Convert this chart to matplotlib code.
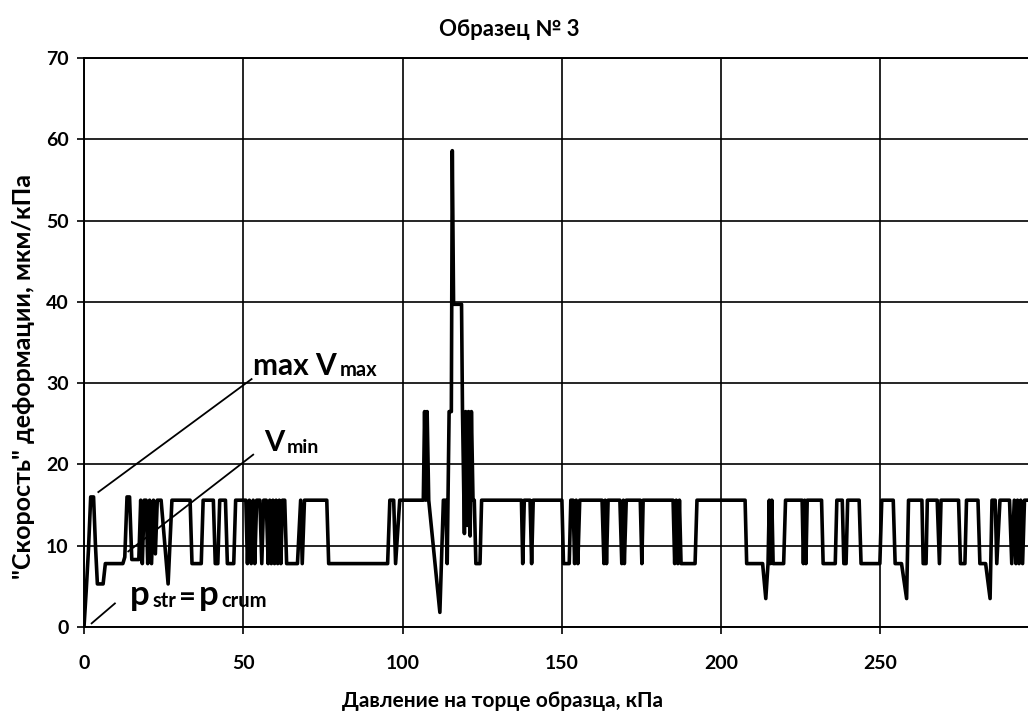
import matplotlib
matplotlib.use("Agg")
import matplotlib.pyplot as plt

plt.rcParams['font.family'] = ['Lato', 'Open Sans', 'DejaVu Sans']
plt.rcParams['font.weight'] = 'bold'

# pressure on sample end, kPa / strain "rate", um/kPa
pressure = [
    0.0, 0.7, 1.4, 2.1, 3.0, 3.6, 4.2, 6.0, 6.7, 12.2, 12.8, 13.5, 14.3, 15.0,
    17.2, 17.8, 18.3, 18.9, 19.5, 20.0, 20.6, 21.2, 21.8, 22.4, 23.0, 24.2,
    26.4, 27.6, 33.3, 33.9, 36.8, 37.4, 40.6, 41.2, 42.0, 42.6, 44.4, 45.0,
    47.0, 47.6, 50.8, 51.3, 51.9, 52.5, 53.1, 53.6, 54.2, 55.2, 55.8, 56.4,
    57.2, 57.8, 58.3, 58.8, 59.3, 59.8, 60.3, 60.8, 61.3, 61.8, 62.3, 63.0,
    63.6, 67.0, 68.0, 68.5, 69.2, 76.2, 76.8, 95.3, 96.0, 97.2, 97.8, 99.1,
    106.5, 106.9, 107.3, 107.7, 108.2, 111.7, 112.8, 113.5, 114.0, 114.6,
    115.3, 115.6, 116.0, 118.5, 118.8, 119.4, 119.8, 120.3, 120.7, 121.2,
    121.6, 122.1, 122.5, 123.0, 124.3, 124.8, 137.3, 137.7, 138.2, 140.0,
    140.5, 141.0, 150.0, 150.5, 152.3, 152.8, 153.5, 154.0, 154.5, 155.0,
    155.6, 162.6, 163.2, 163.6, 164.0, 164.5, 168.2, 168.8, 169.3, 169.6,
    170.2, 174.6, 175.1, 175.5, 184.9, 185.4, 185.9, 186.4, 186.9, 187.4,
    191.8, 192.4, 207.5, 208.0, 213.0, 214.0, 214.7, 215.1, 215.5, 215.9,
    216.3, 219.6, 220.2, 225.4, 225.8, 226.2, 226.6, 227.0, 231.5, 232.0,
    235.8, 236.3, 238.0, 238.5, 239.2, 239.7, 243.3, 243.9, 249.8, 250.4,
    254.0, 254.6, 256.6, 258.2, 258.8, 263.0, 263.4, 264.3, 264.7, 267.8,
    268.5, 269.0, 274.5, 275.1, 276.5, 277.0, 280.6, 281.2, 283.0, 284.4,
    285.0, 286.0, 286.5, 287.5, 290.5, 291.2, 292.0, 292.5, 293.0, 293.5,
    294.0, 294.6, 295.2, 296.5,
]
rate = [
    0.0, 4.5, 9.5, 16.0, 16.0, 10.0, 5.3, 5.3, 7.8, 7.8, 8.6, 16.0, 16.0, 8.3,
    8.3, 15.6, 7.8, 15.6, 15.6, 7.8, 15.6, 7.8, 15.6, 9.0, 15.6, 15.6,
    5.3, 15.6, 15.6, 7.8, 7.8, 15.6, 15.6, 7.8, 7.8, 15.6, 15.6, 7.8,
    7.8, 15.6, 15.6, 7.8, 15.6, 7.8, 15.6, 7.8, 15.6, 15.6, 7.8, 15.6,
    15.6, 7.8, 15.6, 7.8, 15.6, 7.8, 15.6, 7.8, 15.6, 7.8, 15.6, 15.6,
    7.8, 7.8, 15.6, 7.8, 15.6, 15.6, 7.8, 7.8, 15.6, 15.6, 7.8, 15.6,
    15.6, 26.5, 15.6, 26.5, 15.6, 1.8, 15.6, 15.6, 7.8, 26.5,
    26.5, 58.6, 39.7, 39.7, 26.5, 11.5, 26.5, 12.5, 26.5, 11.2,
    26.5, 15.6, 15.6, 7.8, 7.8, 15.6, 15.6, 7.8, 15.6, 15.6,
    7.8, 15.6, 15.6, 7.8, 7.8, 15.6, 15.6, 7.8, 15.6, 7.8,
    15.6, 15.6, 7.8, 15.6, 7.8, 15.6, 15.6, 7.8, 15.6, 7.8,
    15.6, 15.6, 7.8, 15.6, 15.6, 7.8, 15.6, 7.8, 15.6, 7.8,
    7.8, 15.6, 15.6, 7.8, 7.8, 3.5, 7.8, 15.6, 7.8, 15.6,
    7.8, 7.8, 15.6, 15.6, 7.8, 15.6, 7.8, 15.6, 15.6, 7.8,
    7.8, 15.6, 15.6, 7.8, 7.8, 15.6, 15.6, 7.8, 7.8, 15.6,
    15.6, 7.8, 7.8, 3.5, 15.6, 15.6, 7.8, 7.8, 15.6, 15.6,
    7.8, 15.6, 15.6, 7.8, 7.8, 15.6, 15.6, 7.8, 7.8, 3.5,
    15.6, 15.6, 7.8, 15.6, 15.6, 7.8, 15.6, 7.8, 15.6, 7.8,
    15.6, 7.8, 15.6, 15.6,
]

x_ticks = [0, 50, 100, 150, 200, 250]
y_ticks = [0, 10, 20, 30, 40, 50, 60, 70]

fig = plt.figure(figsize=(10.28, 7.11), dpi=100)
ax = fig.add_axes([84 / 1028, 1 - 627 / 711, 1 - 84 / 1028, (627 - 58) / 711])

ax.plot(pressure, rate, color='black', lw=2.6, solid_joinstyle='round', zorder=3)

ax.set_xlim(0, 296.3)
ax.set_ylim(0, 70)
ax.set_xticks(x_ticks)
ax.set_yticks(y_ticks)
ax.grid(True, color='black', lw=1.2)
ax.set_axisbelow(True)
ax.spines['right'].set_visible(False)
for s in ('left', 'bottom', 'top'):
    ax.spines[s].set_linewidth(1.4)
ax.tick_params(direction='out', length=5, width=1.2, labelsize=14)
ax.tick_params(axis='x', pad=15)
ax.tick_params(axis='y', pad=6)

fig.text(509 / 1028, 1 - 30 / 711, 'Образец № 3', fontsize=16, fontweight='bold',
         ha='center', va='center')
ax.set_xlabel('Давление на торце образца, кПа', fontsize=15, fontweight='bold')
ax.xaxis.set_label_coords(0.443, -0.112)
ax.set_ylabel('"Скорость" деформации, мкм/кПа', fontsize=18, fontweight='bold')
ax.yaxis.set_label_coords(-0.052, 0.44)

# leader lines for the labels
ax.plot([4.5, 52.6], [16.6, 30.5], color='black', lw=1.3, zorder=4)
ax.plot([13.9, 53.1], [9.3, 21.2], color='black', lw=1.3, zorder=4)
ax.plot([2.4, 9.7], [0.45, 2.9], color='black', lw=1.3, zorder=4)


def label(x, y, parts):
    # parts: list of (text, size), each placed after the previous one
    prev = ax.text(x, y, parts[0][0], fontsize=parts[0][1], fontweight='bold',
                   va='baseline', ha='left', zorder=5)
    for txt, size in parts[1:]:
        prev = ax.annotate(txt, xy=(1, 0), xycoords=prev, xytext=(2, 0),
                           textcoords='offset points', fontsize=size,
                           fontweight='bold', va='bottom', ha='left', zorder=5)


label(53.0, 31.0, [('max V', 21.5), ('max', 14.5)])
label(56.5, 21.6, [('V', 21), ('min', 14)])
label(14.5, 2.7, [('p', 25), ('str', 14.5), ('=', 21), ('p', 25), ('crum', 14.5)])

fig.savefig('out.png', dpi=100)
